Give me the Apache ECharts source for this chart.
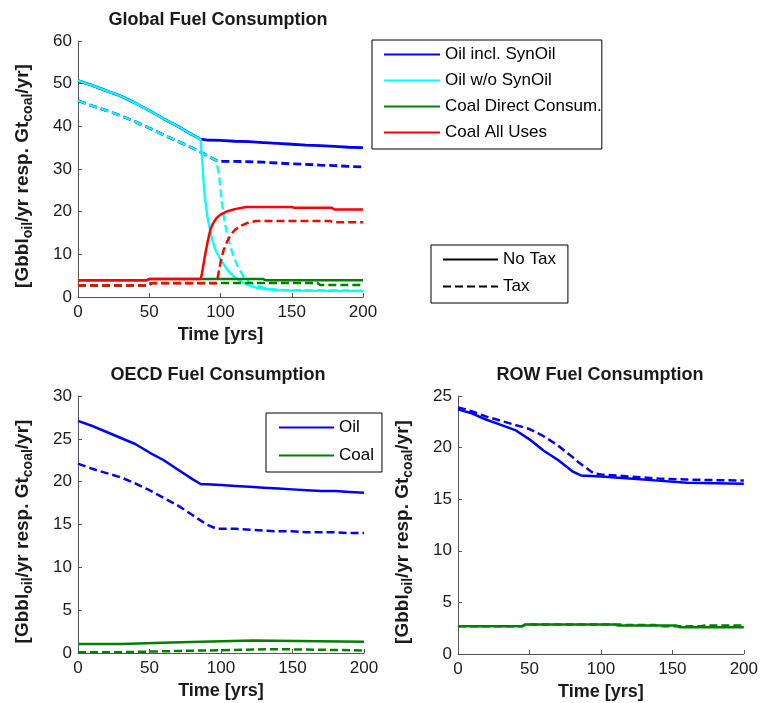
<!DOCTYPE html>
<html>
<head>
<meta charset="utf-8">
<script src="https://cdn.jsdelivr.net/npm/echarts@6/dist/echarts.min.js"></script>
<style>
html,body{margin:0;padding:0;background:#fff;}
#c{width:761px;height:703px;}
</style>
</head>
<body>
<div id="c"></div>
<script>
// ---------- Tick / axis settings ----------
const xTicks = [0, 50, 100, 150, 200];
const titles = ['Global Fuel Consumption', 'OECD Fuel Consumption', 'ROW Fuel Consumption'];
const legendGlobal = ['Oil incl. SynOil', 'Oil w/o SynOil', 'Coal Direct Consum.', 'Coal All Uses'];
const legendTax = ['No Tax', 'Tax'];
const legendRegion = ['Oil', 'Coal'];

// ---------- Global ----------
const gOilInclNoTaxT = [0,10,20,30,40,50,60,70,80,86,90,100,110,120,130,140,150,160,170,180,190,200];
const gOilInclNoTaxV = [50.7,49.6,48.3,47.1,45.5,43.7,41.8,40.0,38.1,37.0,36.8,36.7,36.5,36.4,36.2,36.0,35.8,35.6,35.5,35.3,35.1,35.0];
const gOilInclTaxT = [0,10,20,30,40,50,60,70,80,90,97,100,110,120,130,140,150,160,170,180,190,200];
const gOilInclTaxV = [46.0,44.8,43.7,42.5,41.1,39.6,38.0,36.5,35.0,33.3,32.0,31.8,31.8,31.7,31.6,31.4,31.2,31.1,30.9,30.8,30.6,30.5];
const gOilWoNoTaxT = [0,10,20,30,40,50,60,70,80,86,87,88,89,91,93,95,97,100,105,110,115,120,125,130,140,150,200];
const gOilWoNoTaxV = [50.7,49.6,48.3,47.1,45.5,43.7,41.8,40.0,38.1,37.0,33.0,27.5,23.5,18.5,15.0,12.5,10.6,8.8,6.3,4.6,3.5,2.7,2.2,1.9,1.6,1.5,1.4];
const gOilWoTaxT = [0,10,20,30,40,50,60,70,80,90,97,99,101,103,105,107,109,112,116,120,125,132,140,150,200];
const gOilWoTaxV = [46.0,44.8,43.7,42.5,41.1,39.6,38.0,36.5,35.0,33.3,32.0,28.5,22.0,17.5,14.3,11.8,9.7,7.2,4.9,3.6,2.7,2.0,1.7,1.6,1.5];
const gCoalDirNoTaxT = [0,48,50,130,132,200];
const gCoalDirNoTaxV = [3.9,3.9,4.2,4.2,3.9,3.9];
const gCoalDirTaxT = [0,50,52,168,170,200];
const gCoalDirTaxV = [2.7,2.7,3.3,3.3,2.8,2.8];
const gCoalAllNoTaxT = [0,48,50,86,87,89,91,93,95,97.5,100,105,110,118,150,152,178,180,200];
const gCoalAllNoTaxV = [3.9,3.9,4.2,4.2,5.5,9.5,13.0,15.9,17.4,18.6,19.3,20.1,20.6,21.1,21.1,20.9,20.9,20.5,20.5];
const gCoalAllTaxT = [0,48,50,97,98,100,102,104.5,107,110,115,120,125,177,179,200];
const gCoalAllTaxV = [2.7,2.7,3.2,3.2,4.5,8.0,10.8,12.9,14.5,15.7,16.8,17.5,17.8,17.8,17.5,17.5];

// ---------- OECD ----------
const oOilNoTaxT = [0,10,20,30,40,50,60,70,80,86,90,100,110,120,130,140,150,160,170,180,190,200];
const oOilNoTaxV = [27.1,26.5,25.8,25.1,24.4,23.4,22.5,21.4,20.3,19.7,19.7,19.6,19.5,19.4,19.3,19.2,19.1,19.0,18.9,18.9,18.8,18.7];
const oOilTaxT = [0,10,20,30,40,50,60,70,80,90,97,100,110,120,130,140,150,160,170,180,190,200];
const oOilTaxV = [22.1,21.5,21.0,20.5,19.8,19.0,18.1,17.2,16.1,15.0,14.5,14.5,14.5,14.4,14.3,14.2,14.2,14.1,14.1,14.1,14.0,14.0];
const oCoalNoTaxT = [0,30,31,72,73,122,123,200];
const oCoalNoTaxV = [1.05,1.05,1.25,1.25,1.45,1.45,1.3,1.3];
const oCoalTaxT = [0,30,31,75,76,140,141,200];
const oCoalTaxV = [0.1,0.1,0.25,0.25,0.45,0.45,0.3,0.3];

// ---------- ROW ----------
const rOilNoTaxT = [0,10,20,30,40,50,60,70,80,86,100,120,140,160,200];
const rOilNoTaxV = [23.7,23.3,22.7,22.2,21.7,20.8,19.7,18.8,17.7,17.3,17.2,17.0,16.8,16.6,16.5];
const rOilTaxT = [0,10,20,30,40,50,60,70,80,85,90,95,100,120,140,160,200];
const rOilTaxV = [23.9,23.5,23.0,22.6,22.2,21.8,21.1,20.2,19.1,18.5,18.0,17.5,17.4,17.2,17.0,16.9,16.8];
const rCoalNoTaxT = [0,45,47,110,112,153,155,200];
const rCoalNoTaxV = [2.7,2.7,2.85,2.85,2.75,2.75,2.6,2.6];
const rCoalTaxT = [0,45,47,115,117,138,140,170,172,200];
const rCoalTaxV = [2.7,2.7,2.85,2.85,2.8,2.8,2.7,2.7,2.75,2.75];

// ---------- Build ----------
const zip = (t, v) => t.map((x, i) => [x, v[i]]);
const BLUE = '#0000ff', CYAN = '#00ffff', GREEN = '#008000', RED = '#ff0000';
const DASH = [8, 4];
const FONT = 'Liberation Sans, Arial, Helvetica, sans-serif';

function line(name, idx, t, v, color, dashed, width) {
  return {
    name: name, type: 'line', xAxisIndex: idx, yAxisIndex: idx,
    data: zip(t, v), symbol: 'none', showSymbol: false, animation: false,
    color: color,
    lineStyle: { color: color, width: width || 2.5, type: dashed ? DASH : 'solid' },
    emphasis: { disabled: true }
  };
}

const grids = [
  { left: 78, top: 41, width: 285, height: 256 },
  { left: 78, top: 396, width: 286, height: 257 },
  { left: 458, top: 396, width: 286, height: 258 }
];
const yMax = [60, 30, 25];
const yInt = [10, 5, 5];

const axisLine = { show: true, lineStyle: { color: '#555', width: 1 } };
const axisTick = { show: true, inside: true, length: 4, lineStyle: { color: '#555' } };

const xAxes = grids.map((g, i) => ({
  gridIndex: i, type: 'value', min: xTicks[0], max: xTicks[xTicks.length - 1],
  interval: xTicks[1] - xTicks[0],
  axisLine: axisLine, axisTick: axisTick, splitLine: { show: false },
  axisLabel: { fontSize: 17, color: '#1a1a1a', fontFamily: FONT, margin: 7 },
  name: 'Time [yrs]', nameLocation: 'middle', nameGap: 29,
  nameTextStyle: { fontSize: 18, fontWeight: 'bold', color: '#1a1a1a', fontFamily: FONT }
}));

const yAxes = grids.map((g, i) => ({
  gridIndex: i, type: 'value', min: 0, max: yMax[i], interval: yInt[i],
  axisLine: axisLine, axisTick: axisTick, splitLine: { show: false },
  axisLabel: { fontSize: 17, color: '#1a1a1a', fontFamily: FONT, margin: 6 },
  name: '[Gbbl{s|oil}/yr resp. Gt{s|coal}/yr]', nameLocation: 'middle', nameGap: 43,
  nameTextStyle: {
    fontSize: 19, fontWeight: 'bold', color: '#1a1a1a', fontFamily: FONT, lineHeight: 24,
    padding: [0, 14, 0, 0],
    rich: { s: { fontSize: 14, fontWeight: 'bold', color: '#1a1a1a', fontFamily: FONT, lineHeight: 12, verticalAlign: 'bottom' } }
  }
}));

const titleCenters = [[218, 11], [218, 366], [600, 366]];
const titleOpts = titles.map((t, i) => ({
  text: t, left: titleCenters[i][0], top: titleCenters[i][1], textAlign: 'center', padding: 0,
  textStyle: { fontSize: 18, fontWeight: 'bold', color: '#1a1a1a', fontFamily: FONT }
}));

const legendBase = {
  orient: 'vertical', itemWidth: 56, itemHeight: 14, borderColor: '#000', borderWidth: 1,
  backgroundColor: '#fff', selectedMode: false,
  itemStyle: { opacity: 0 },
  textStyle: { fontSize: 17, color: '#000', fontFamily: FONT }
};

const series = [
  // global
  line('Oil incl. SynOil', 0, gOilInclNoTaxT, gOilInclNoTaxV, BLUE, false, 2.8),
  line('Oil incl. SynOil (Tax)', 0, gOilInclTaxT, gOilInclTaxV, BLUE, true, 2.8),
  line('Oil w/o SynOil', 0, gOilWoNoTaxT, gOilWoNoTaxV, CYAN, false, 2.3),
  line('Oil w/o SynOil (Tax)', 0, gOilWoTaxT, gOilWoTaxV, CYAN, true, 2.3),
  line('Coal Direct Consum.', 0, gCoalDirNoTaxT, gCoalDirNoTaxV, GREEN, false),
  line('Coal Direct Consum. (Tax)', 0, gCoalDirTaxT, gCoalDirTaxV, GREEN, true),
  line('Coal All Uses', 0, gCoalAllNoTaxT, gCoalAllNoTaxV, RED, false),
  line('Coal All Uses (Tax)', 0, gCoalAllTaxT, gCoalAllTaxV, RED, true),
  line('No Tax', 0, [], [], '#000', false),
  line('Tax', 0, [], [], '#000', true),
  // OECD
  line('Oil', 1, oOilNoTaxT, oOilNoTaxV, BLUE, false),
  line('Oil (Tax)', 1, oOilTaxT, oOilTaxV, BLUE, true),
  line('Coal', 1, oCoalNoTaxT, oCoalNoTaxV, GREEN, false),
  line('Coal (Tax)', 1, oCoalTaxT, oCoalTaxV, GREEN, true),
  // ROW
  line('ROW Oil', 2, rOilNoTaxT, rOilNoTaxV, BLUE, false),
  line('ROW Oil (Tax)', 2, rOilTaxT, rOilTaxV, BLUE, true),
  line('ROW Coal', 2, rCoalNoTaxT, rCoalNoTaxV, GREEN, false),
  line('ROW Coal (Tax)', 2, rCoalTaxT, rCoalTaxV, GREEN, true)
];

const legends = [
  Object.assign({}, legendBase, { data: legendGlobal, left: 372, top: 40, padding: [6, 0, 8, 11], itemGap: 9 }),
  Object.assign({}, legendBase, { data: legendTax, left: 431, top: 245, padding: [6, 12, 8, 11], itemGap: 10, itemWidth: 55 }),
  Object.assign({}, legendBase, { data: legendRegion, left: 266, top: 413, padding: [6, 8, 8, 12], itemGap: 11, itemWidth: 55 })
];

const chart = echarts.init(document.getElementById('c'), null, { renderer: 'canvas' });
chart.setOption({
  backgroundColor: '#fff',
  animation: false,
  title: titleOpts,
  legend: legends,
  grid: grids,
  xAxis: xAxes,
  yAxis: yAxes,
  series: series
});
</script>
</body>
</html>
